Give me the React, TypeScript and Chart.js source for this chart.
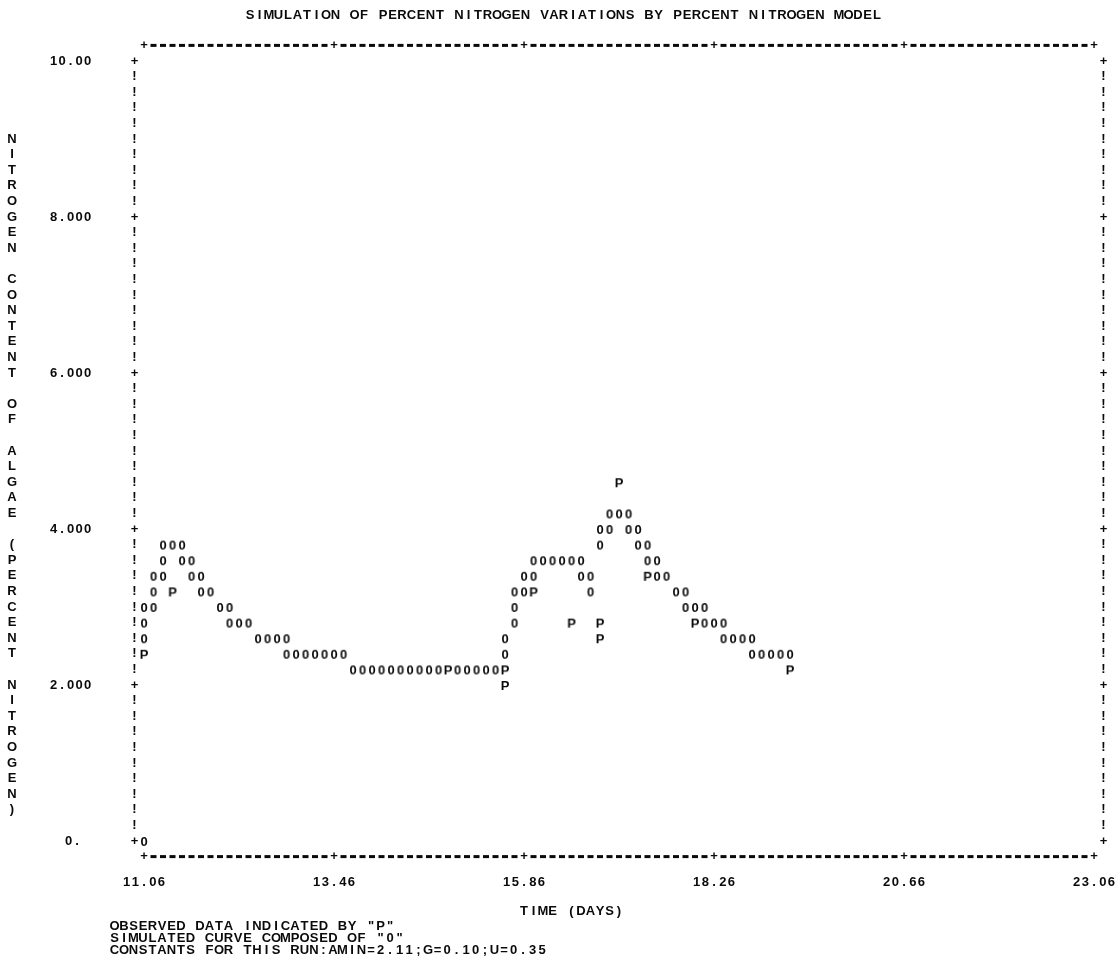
import React, { useEffect, useRef } from "react";
import { Chart, registerables } from "chart.js";

Chart.register(...registerables);

// ---------------- data ----------------
const titleText = "SIMULATION OF PERCENT NITROGEN VARIATIONS BY PERCENT NITROGEN MODEL";
const yAxisTitle = "NITROGEN CONTENT OF ALGAE (PERCENT NITROGEN)";
const xAxisTitle = "TIME (DAYS)";
const footerLines = [
  'OBSERVED DATA INDICATED BY "P"',
  'SIMULATED CURVE COMPOSED OF "0"',
  "CONSTANTS FOR THIS RUN:AMIN=2.11;G=0.10;U=0.35",
];

const xTickDays = [11.06, 13.46, 15.86, 18.26, 20.66, 23.06];
const xTickLabels = ["11.06", "13.46", "15.86", "18.26", "20.66", "23.06"];
const yTickValues = [10, 8, 6, 4, 2, 0];
const yTickLabels = ["10.00", "8.000", "6.000", "4.000", "2.000", "0."];

// printer grid: one column = 0.12 day, one line = 0.2 % N
const gridStep = [0.12, 0.2];

// simulated curve ("0")
const simDays = [
  11.06, 11.06, 11.06, 11.06,
  11.18, 11.18, 11.18,
  11.30, 11.30, 11.30,
  11.42,
  11.54, 11.54,
  11.66, 11.66,
  11.78, 11.78,
  11.90,
  12.02,
  12.14, 12.14,
  12.26, 12.38,
  12.50, 12.62, 12.74,
  12.86, 12.86,
  12.98, 13.10, 13.22, 13.34, 13.46, 13.58,
  13.70, 13.82, 13.94, 14.06, 14.18, 14.30, 14.42, 14.54, 14.66, 14.78,
  15.02, 15.14, 15.26, 15.38, 15.50,
  15.62, 15.62,
  15.74, 15.74, 15.74,
  15.86, 15.86,
  15.98, 15.98,
  16.10, 16.22, 16.34, 16.46,
  16.58, 16.58,
  16.70, 16.70,
  16.82, 16.82,
  16.94, 16.94,
  17.06,
  17.18, 17.18,
  17.30, 17.30,
  17.42, 17.42,
  17.54, 17.54,
  17.66,
  17.78,
  17.90, 17.90,
  18.02,
  18.14, 18.14,
  18.26,
  18.38, 18.38,
  18.50, 18.62,
  18.74, 18.74,
  18.86, 18.98, 19.10, 19.22,
];
const simNitrogen = [
  0.0, 2.6, 2.8, 3.0,
  3.0, 3.2, 3.4,
  3.4, 3.6, 3.8,
  3.8,
  3.8, 3.6,
  3.6, 3.4,
  3.4, 3.2,
  3.2,
  3.0,
  3.0, 2.8,
  2.8, 2.8,
  2.6, 2.6, 2.6,
  2.6, 2.4,
  2.4, 2.4, 2.4, 2.4, 2.4, 2.4,
  2.2, 2.2, 2.2, 2.2, 2.2, 2.2, 2.2, 2.2, 2.2, 2.2,
  2.2, 2.2, 2.2, 2.2, 2.2,
  2.4, 2.6,
  2.8, 3.0, 3.2,
  3.2, 3.4,
  3.4, 3.6,
  3.6, 3.6, 3.6, 3.6,
  3.6, 3.4,
  3.4, 3.2,
  3.8, 4.0,
  4.0, 4.2,
  4.2,
  4.2, 4.0,
  4.0, 3.8,
  3.8, 3.6,
  3.6, 3.4,
  3.4,
  3.2,
  3.2, 3.0,
  3.0,
  3.0, 2.8,
  2.8,
  2.8, 2.6,
  2.6, 2.6,
  2.6, 2.4,
  2.4, 2.4, 2.4, 2.4,
];

// observed data ("P")
const obsDays = [11.06, 11.42, 14.90, 15.62, 15.62, 15.98, 16.46, 16.82, 16.82, 17.06, 17.42, 18.02, 19.22];
const obsNitrogen = [2.4, 3.2, 2.2, 2.2, 2.0, 3.2, 2.8, 2.8, 2.6, 4.6, 3.4, 2.8, 2.2];

// ---------------- rendering helpers ----------------
const FONT = "bold 13px 'Liberation Sans', Arial, sans-serif";
const INK = "#0a0a0a";

function glyph(ch: string, opaque: boolean): HTMLCanvasElement {
  const c = document.createElement("canvas");
  c.width = 10;
  c.height = 14;
  const g = c.getContext("2d")!;
  if (opaque) {
    g.fillStyle = "#fff";
    g.fillRect(0, 0, c.width, c.height);
  }
  g.fillStyle = INK;
  g.font = FONT;
  g.textAlign = "center";
  g.textBaseline = "middle";
  g.fillText(ch, c.width / 2, c.height / 2 + 1);
  return c;
}

function drawChars(ctx: CanvasRenderingContext2D, text: string, x0: number, y: number, pitch: number) {
  for (let i = 0; i < text.length; i++) {
    if (text[i] !== " ") ctx.fillText(text[i], x0 + i * pitch, y);
  }
}

const printerPlugin = {
  id: "printerFrame",
  beforeDatasetsDraw(chart: any) {
    const ctx: CanvasRenderingContext2D = chart.ctx;
    const xs = chart.scales.x;
    const ys = chart.scales.y;
    const x0 = xTickDays[0];
    const colPx = xs.getPixelForValue(x0 + gridStep[0]) - xs.getPixelForValue(x0);
    const nCols = Math.round((xTickDays[xTickDays.length - 1] - x0) / gridStep[0]);
    const nRows = Math.round(10 / gridStep[1]);

    ctx.save();
    ctx.fillStyle = INK;
    ctx.font = FONT;
    ctx.textAlign = "center";
    ctx.textBaseline = "middle";

    // horizontal frame lines made of printer characters
    const yTop = ys.getPixelForValue(10 + gridStep[1]);
    const yBot = ys.getPixelForValue(-gridStep[1]);
    for (let c = 0; c <= nCols; c++) {
      const x = xs.getPixelForValue(x0 + c * gridStep[0]);
      if (c % 20 === 0) {
        ctx.fillText("+", x, yTop);
        ctx.fillText("+", x, yBot);
      } else {
        ctx.fillRect(x - 3, yTop - 1.5, 6, 3);
        ctx.fillRect(x - 3, yBot - 1.5, 6, 3);
      }
    }
    // vertical frame lines
    const xL = xs.getPixelForValue(x0 - gridStep[0]);
    const xR = xs.getPixelForValue(x0 + (nCols + 1) * gridStep[0]);
    for (let r = 0; r <= nRows; r++) {
      const y = ys.getPixelForValue(10 - r * gridStep[1]);
      const ch = r % 10 === 0 ? "+" : "!";
      ctx.fillText(ch, xL, y);
      ctx.fillText(ch, xR, y);
    }

    // y tick labels
    yTickValues.forEach((v, i) => {
      const y = ys.getPixelForValue(v);
      const t = yTickLabels[i];
      const start = t.length < 5 ? xL - 66 : xL - 81;
      drawChars(ctx, t, start, y, colPx * 0.9);
    });
    // x tick labels
    const yLab = yBot + 26;
    xTickDays.forEach((d, i) => {
      const cx = xs.getPixelForValue(d);
      const t = xTickLabels[i];
      const p = colPx * 0.92;
      drawChars(ctx, t, cx - ((t.length - 1) / 2) * p, yLab, p);
    });
    // vertical axis title, one letter per printer line
    for (let i = 0; i < yAxisTitle.length; i++) {
      const ch = yAxisTitle[i];
      if (ch === " ") continue;
      const y = ys.getPixelForValue(10 - (5 + i) * gridStep[1]);
      ctx.fillText(ch, 12, y);
    }
    // x axis title
    drawChars(ctx, xAxisTitle, xs.getPixelForValue(15.86), yBot + 55, colPx);
    // title
    drawChars(ctx, titleText, 250, 15, colPx);
    // footer
    footerLines.forEach((line, i) => {
      drawChars(ctx, line, xL - 20, yBot + 70 + i * 12, colPx);
    });
    ctx.restore();
  },
};

export default function App() {
  const ref = useRef<HTMLCanvasElement | null>(null);
  useEffect(() => {
    if (!ref.current) return;
    const zero = glyph("0", false);
    const pee = glyph("P", true);
    const W = 1119;
    const H = 966;
    const chart = new Chart(ref.current, {
      type: "scatter",
      data: {
        datasets: [
          {
            label: 'SIMULATED "0"',
            data: simDays.map((d, i) => ({ x: d, y: simNitrogen[i] })),
            pointStyle: zero as any,
            showLine: false,
          },
          {
            label: 'OBSERVED "P"',
            data: obsDays.map((d, i) => ({ x: d, y: obsNitrogen[i] })),
            pointStyle: pee as any,
            showLine: false,
          },
        ],
      },
      options: {
        responsive: false,
        animation: false,
        devicePixelRatio: 1,
        layout: { padding: { left: 134.5, right: W - 1103.5, top: 45.4, bottom: H - 856.6 } },
        plugins: { legend: { display: false }, tooltip: { enabled: false }, title: { display: false } },
        scales: {
          x: { type: "linear", min: 11.06 - 0.12, max: 23.06 + 0.12, display: false },
          y: { type: "linear", min: -0.2, max: 10.2, display: false },
        },
      },
      plugins: [printerPlugin],
    });
    return () => chart.destroy();
  }, []);
  return (
    <div style={{ position: "absolute", left: 0, top: 0, width: 1119, height: 966, background: "#fff" }}>
      <canvas ref={ref} width={1119} height={966} style={{ display: "block" }} />
    </div>
  );
}
